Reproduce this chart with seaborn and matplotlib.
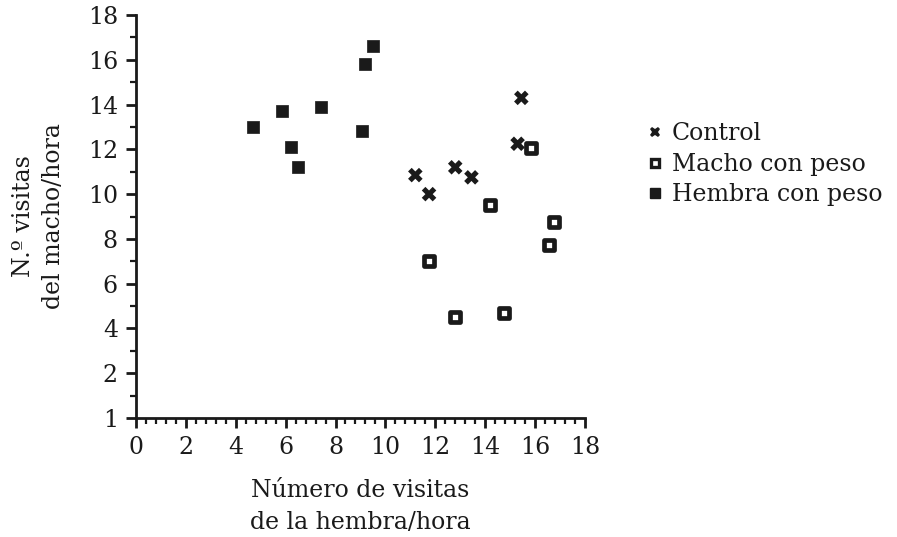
import matplotlib
matplotlib.use("Agg")
import matplotlib.pyplot as plt
from matplotlib.ticker import MultipleLocator
from matplotlib.lines import Line2D
import seaborn as sns
import pandas as pd

# --- Data ---
control_x = [11.2, 11.75, 12.8, 13.45, 15.3, 15.45]
control_y = [10.85, 10.0, 11.2, 10.75, 12.25, 14.3]

macho_x = [11.75, 12.8, 14.2, 14.75, 15.85, 16.55, 16.75]
macho_y = [7.0, 4.5, 9.5, 4.7, 12.05, 7.75, 8.75]

hembra_x = [4.7, 5.85, 6.2, 6.5, 7.4, 9.05, 9.2, 9.5]
hembra_y = [13.0, 13.7, 12.1, 11.2, 13.9, 12.8, 15.8, 16.6]

group_names = ["Control", "Macho con peso", "Hembra con peso"]

x_ticks = [0, 2, 4, 6, 8, 10, 12, 14, 16, 18]
y_ticks = [0, 2, 4, 6, 8, 10, 12, 14, 16, 18]
y_ticklabels = ["1", "2", "4", "6", "8", "10", "12", "14", "16", "18"]

df = pd.DataFrame({
    "x": control_x + macho_x + hembra_x,
    "y": control_y + macho_y + hembra_y,
    "grupo": [group_names[0]] * len(control_x)
             + [group_names[1]] * len(macho_x)
             + [group_names[2]] * len(hembra_x),
})

sns.set_style("ticks")
plt.rcParams["font.family"] = ["DejaVu Serif"]

fig = plt.figure(figsize=(8.97, 5.37), dpi=100)
ax = fig.add_axes([0.1516, 0.2216, 0.5005, 0.7504])

ink = "#1a1a1a"
styles = {
    "Control": dict(marker="X", s=110, color=ink, edgecolor="none", linewidth=0),
    "Macho con peso": dict(marker="s", s=60, color="white", edgecolor=ink, linewidth=3.4),
    "Hembra con peso": dict(marker="s", s=85, color=ink, edgecolor=ink, linewidth=0.5),
}
for g in group_names:
    sub = df[df["grupo"] == g]
    sns.scatterplot(data=sub, x="x", y="y", ax=ax, legend=False, zorder=3, **styles[g])

ax.set_xlim(0, 18)
ax.set_ylim(0, 18)
ax.set_xticks(x_ticks)
ax.set_yticks(y_ticks)
ax.set_yticklabels(y_ticklabels)
ax.xaxis.set_minor_locator(MultipleLocator(0.4))
ax.yaxis.set_minor_locator(MultipleLocator(1))

for side in ["top", "right"]:
    ax.spines[side].set_visible(False)
for side in ["left", "bottom"]:
    ax.spines[side].set_linewidth(2.0)
    ax.spines[side].set_color(ink)

ax.tick_params(axis="both", which="major", direction="out", length=7, width=2.0,
               labelsize=17, colors=ink, pad=6)
ax.tick_params(axis="both", which="minor", direction="out", length=4, width=1.6,
               colors=ink)

ax.set_xlabel("Número de visitas\nde la hembra/hora", fontsize=17, linespacing=1.5,
              labelpad=14, color=ink)
ax.set_ylabel("N.º visitas\ndel macho/hora", fontsize=17, linespacing=1.4,
              labelpad=16, color=ink)

handles = [
    Line2D([], [], linestyle="none", marker="X", markersize=7.5, color=ink,
           markeredgewidth=0),
    Line2D([], [], linestyle="none", marker="s", markersize=5.5, markerfacecolor="white",
           markeredgecolor=ink, markeredgewidth=2.4),
    Line2D([], [], linestyle="none", marker="s", markersize=6.5, color=ink),
]
fig.legend(handles, group_names, loc="upper left", bbox_to_anchor=(0.712, 0.79),
           frameon=False, fontsize=17, handlelength=0.6, handletextpad=0.4,
           labelspacing=0.32, borderaxespad=0, labelcolor=ink)

fig.savefig("out.png", dpi=100)
